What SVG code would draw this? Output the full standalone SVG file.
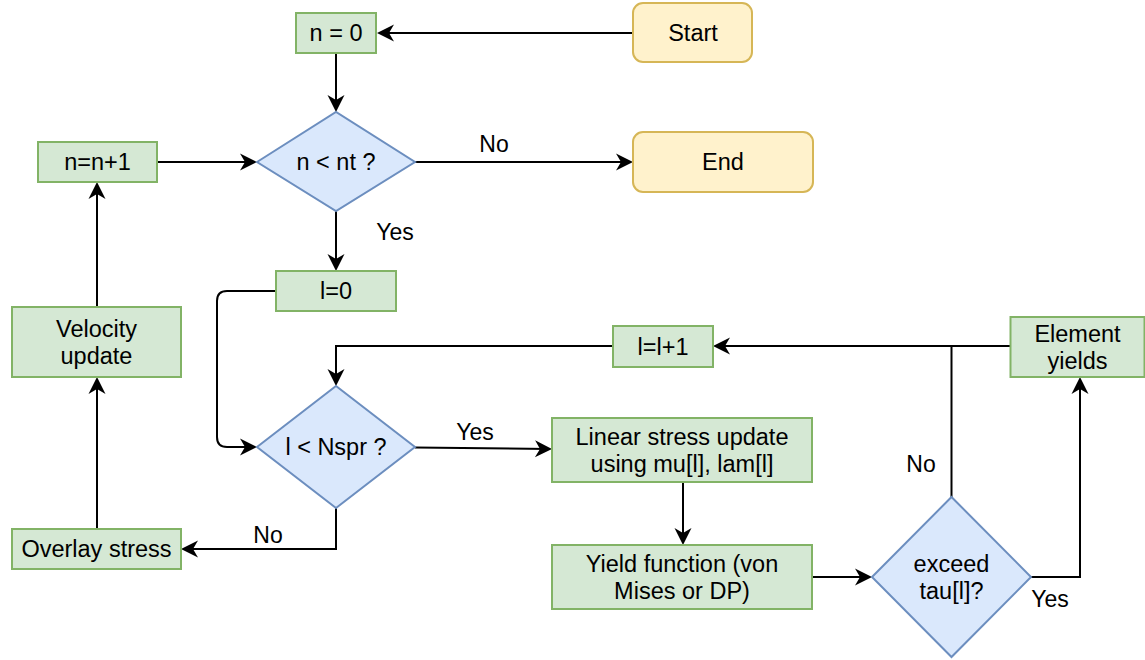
<svg xmlns="http://www.w3.org/2000/svg" width="1145" height="660" viewBox="0 0 1145 660">
  <style>
    text { font-family: "Liberation Sans", Arial, Helvetica, sans-serif; font-size: 23.5px; fill: #000; text-anchor: middle; }
    .lbl { font-size: 23px; }
    .proc { fill: #d5e8d4; stroke: #82b366; stroke-width: 2; }
    .dec { fill: #dae8fc; stroke: #6c8ebf; stroke-width: 2; }
    .term { fill: #fff2cc; stroke: #d6b656; stroke-width: 2; }
    .edge { fill: none; stroke: #000; stroke-width: 2; }
    .arrow { marker-end: url(#arr); }
  </style>
  <defs>
    <marker id="arr" viewBox="-16 -10 20 20" refX="0" refY="0" markerWidth="20" markerHeight="20" markerUnits="userSpaceOnUse" orient="auto">
      <path d="M3,0 L-14,-8.5 L-9,0 L-14,8.5 Z" fill="#000" stroke="none"/>
    </marker>
  </defs>

  <rect width="1145" height="660" fill="#ffffff"/>

  <!-- connectors -->
  <g id="connectors">
    <path class="edge arrow" d="M633,33 H380"/>
    <path class="edge arrow" d="M336,53 V109"/>
    <path class="edge arrow" d="M415,162 H630"/>
    <path class="edge arrow" d="M157,162 H254"/>
    <path class="edge arrow" d="M336,211 V268"/>
    <path class="edge arrow" d="M276,291 H227 Q217,291 217,301 V437 Q217,447 227,447 H254"/>
    <path class="edge arrow" d="M613,346 H336 V383"/>
    <path class="edge arrow" d="M415,447.5 L549,449"/>
    <path class="edge arrow" d="M336,508 V549 H184"/>
    <path class="edge arrow" d="M683,482 V542"/>
    <path class="edge arrow" d="M812,577 H869"/>
    <path class="edge arrow" d="M1031,577 H1080 V380"/>
    <path class="edge arrow" d="M1010,346 H716"/>
    <path class="edge" d="M951.5,497 V346"/>
    <path class="edge arrow" d="M97,529 V380"/>
    <path class="edge arrow" d="M97,307 V185"/>

    <text class="lbl" x="494" y="152">No</text>
    <text class="lbl" x="395" y="240">Yes</text>
    <text class="lbl" x="475" y="440">Yes</text>
    <text class="lbl" x="268" y="543">No</text>
    <text class="lbl" x="921" y="472">No</text>
    <text class="lbl" x="1050" y="607">Yes</text>
  </g>

  <!-- nodes -->
  <g id="start">
    <rect class="term" x="633" y="3" width="119" height="59" rx="10"/>
    <text x="693" y="41">Start</text>
  </g>
  <g id="n-init">
    <rect class="proc" x="296" y="13" width="80" height="40"/>
    <text x="336" y="41">n = 0</text>
  </g>
  <g id="n-check">
    <polygon class="dec" points="257,162 336,112 415,162 336,211"/>
    <text x="336" y="170">n &lt; nt ?</text>
  </g>
  <g id="end">
    <rect class="term" x="633" y="132" width="180" height="60" rx="10"/>
    <text x="723" y="170">End</text>
  </g>
  <g id="n-incr">
    <rect class="proc" x="38" y="142" width="119" height="40"/>
    <text x="97.5" y="170">n=n+1</text>
  </g>
  <g id="l-init">
    <rect class="proc" x="276" y="271" width="120" height="40"/>
    <text x="336" y="299">l=0</text>
  </g>
  <g id="velocity">
    <rect class="proc" x="12" y="307" width="169" height="70"/>
    <text x="96.5" y="337">Velocity</text>
    <text x="96.5" y="363.5">update</text>
  </g>
  <g id="l-check">
    <polygon class="dec" points="257,447 336,386 415,447 336,508"/>
    <text x="336" y="455">l &lt; Nspr ?</text>
  </g>
  <g id="overlay">
    <rect class="proc" x="12" y="529" width="169" height="40"/>
    <text x="96.5" y="557">Overlay stress</text>
  </g>
  <g id="l-incr">
    <rect class="proc" x="613" y="326" width="100" height="41"/>
    <text x="663" y="354.5">l=l+1</text>
  </g>
  <g id="linear">
    <rect class="proc" x="552" y="418" width="260" height="64"/>
    <text x="682" y="445">Linear stress update</text>
    <text x="682" y="471.5">using mu[l], lam[l]</text>
  </g>
  <g id="yield-fn">
    <rect class="proc" x="552" y="545" width="260" height="64"/>
    <text x="682" y="572">Yield function (von</text>
    <text x="682" y="598.5">Mises or DP)</text>
  </g>
  <g id="exceed">
    <polygon class="dec" points="872,577 951.5,497 1031,577 951.5,657"/>
    <text x="951.5" y="572">exceed</text>
    <text x="951.5" y="598.5">tau[l]?</text>
  </g>
  <g id="element-yields">
    <rect class="proc" x="1010.5" y="317" width="134" height="60"/>
    <text x="1077.5" y="342">Element</text>
    <text x="1077.5" y="368.5">yields</text>
  </g>
</svg>
